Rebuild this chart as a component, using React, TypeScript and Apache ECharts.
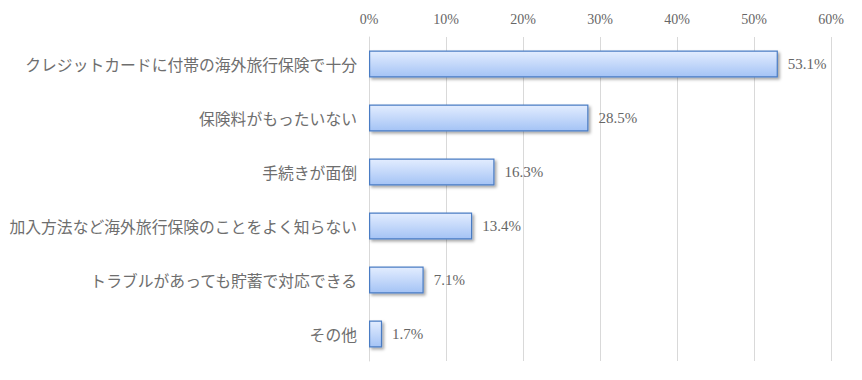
import React, { useEffect, useRef } from "react";
import * as echarts from "echarts";

const categories = [
  "クレジットカードに付帯の海外旅行保険で十分",
  "保険料がもったいない",
  "手続きが面倒",
  "加入方法など海外旅行保険のことをよく知らない",
  "トラブルがあっても貯蓄で対応できる",
  "その他",
];
const values = [53.1, 28.5, 16.3, 13.4, 7.1, 1.7];
const axisMax = 60;
const axisInterval = 10;

export default function App() {
  const ref = useRef<HTMLDivElement>(null);
  useEffect(() => {
    if (!ref.current) return;
    const chart = echarts.init(ref.current, undefined, { renderer: "svg" });
    chart.setOption({
      animation: false,
      grid: { left: 361, right: 23, top: 29, height: 324, outerBoundsMode: "none", containLabel: false },
      xAxis: {
        type: "value",
        position: "top",
        min: 0,
        max: axisMax,
        interval: axisInterval,
        axisLine: { show: false },
        axisTick: { show: false },
        splitLine: { lineStyle: { color: "#d9d9d9", width: 1 } },
        axisLabel: {
          formatter: "{value}%",
          color: "#666666",
          fontSize: 14,
          fontFamily: "Liberation Serif",
          margin: 11,
        },
      },
      yAxis: {
        type: "category",
        inverse: true,
        data: categories,
        axisLine: { show: true, lineStyle: { color: "#d9d9d9" } },
        axisTick: { show: false },
        axisLabel: {
          color: "#6e6e6e",
          fontSize: 15.8,
          fontFamily: "Noto Sans CJK JP",
          margin: 12,
        },
      },
      series: [
        {
          type: "bar",
          data: values,
          barCategoryGap: "50%",
          itemStyle: {
            color: new echarts.graphic.LinearGradient(0, 0, 0, 1, [
              { offset: 0, color: "#e3edff" },
              { offset: 1, color: "#a4c3f5" },
            ]),
            borderColor: "#4a7cc4",
            borderWidth: 1.2,
            shadowColor: "rgba(0,0,0,0.35)",
            shadowBlur: 3,
            shadowOffsetX: 2,
            shadowOffsetY: 2,
          },
          label: {
            show: true,
            position: "right",
            distance: 10,
            formatter: (p: any) => p.value.toFixed(1) + "%",
            color: "#666666",
            fontSize: 15,
            fontFamily: "Liberation Serif",
          },
        },
      ],
    });
    return () => chart.dispose();
  }, []);
  return <div ref={ref} style={{ width: 846, height: 364 }} />;
}
